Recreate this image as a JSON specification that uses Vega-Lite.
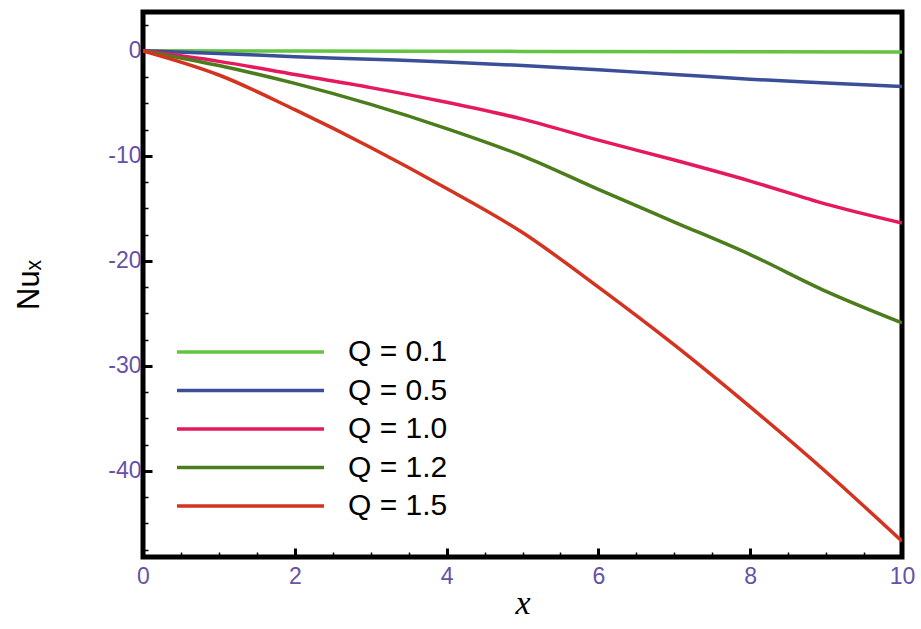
{
  "$schema": "https://vega.github.io/schema/vega-lite/v6.json",
  "width": 759,
  "height": 545,
  "autosize": {"type": "none"},
  "padding": {"left": 143, "top": 12, "right": 19, "bottom": 72},
  "background": "white",
  "config": {
    "view": {"stroke": "black", "strokeWidth": 5},
    "axis": {
      "domain": false,
      "grid": false,
      "labelFlush": false,
      "labelOverlap": false,
      "labelBound": false,
      "tickColor": "black"
    }
  },
  "data": {
    "values": [
      {"series": "Q = 0.1", "x": 0, "Nu": 0},
      {"series": "Q = 0.1", "x": 2, "Nu": -0.02},
      {"series": "Q = 0.1", "x": 5, "Nu": -0.05},
      {"series": "Q = 0.1", "x": 10, "Nu": -0.1},

      {"series": "Q = 0.5", "x": 0, "Nu": 0},
      {"series": "Q = 0.5", "x": 1, "Nu": -0.25},
      {"series": "Q = 0.5", "x": 2, "Nu": -0.55},
      {"series": "Q = 0.5", "x": 3, "Nu": -0.8},
      {"series": "Q = 0.5", "x": 4, "Nu": -1.05},
      {"series": "Q = 0.5", "x": 5, "Nu": -1.4},
      {"series": "Q = 0.5", "x": 6, "Nu": -1.8},
      {"series": "Q = 0.5", "x": 7, "Nu": -2.25},
      {"series": "Q = 0.5", "x": 8, "Nu": -2.7},
      {"series": "Q = 0.5", "x": 9, "Nu": -3.05},
      {"series": "Q = 0.5", "x": 10, "Nu": -3.4},

      {"series": "Q = 1.0", "x": 0, "Nu": 0},
      {"series": "Q = 1.0", "x": 1, "Nu": -1.0},
      {"series": "Q = 1.0", "x": 2, "Nu": -2.25},
      {"series": "Q = 1.0", "x": 3, "Nu": -3.5},
      {"series": "Q = 1.0", "x": 4, "Nu": -4.9},
      {"series": "Q = 1.0", "x": 5, "Nu": -6.5},
      {"series": "Q = 1.0", "x": 6, "Nu": -8.5},
      {"series": "Q = 1.0", "x": 7, "Nu": -10.4},
      {"series": "Q = 1.0", "x": 8, "Nu": -12.4},
      {"series": "Q = 1.0", "x": 9, "Nu": -14.6},
      {"series": "Q = 1.0", "x": 10, "Nu": -16.4},

      {"series": "Q = 1.2", "x": 0, "Nu": 0},
      {"series": "Q = 1.2", "x": 1, "Nu": -1.4},
      {"series": "Q = 1.2", "x": 2, "Nu": -3.1},
      {"series": "Q = 1.2", "x": 3, "Nu": -5.1},
      {"series": "Q = 1.2", "x": 4, "Nu": -7.4},
      {"series": "Q = 1.2", "x": 5, "Nu": -10.0},
      {"series": "Q = 1.2", "x": 6, "Nu": -13.2},
      {"series": "Q = 1.2", "x": 7, "Nu": -16.3},
      {"series": "Q = 1.2", "x": 8, "Nu": -19.4},
      {"series": "Q = 1.2", "x": 9, "Nu": -22.9},
      {"series": "Q = 1.2", "x": 10, "Nu": -25.9},

      {"series": "Q = 1.5", "x": 0, "Nu": 0},
      {"series": "Q = 1.5", "x": 1, "Nu": -2.3},
      {"series": "Q = 1.5", "x": 2, "Nu": -5.6},
      {"series": "Q = 1.5", "x": 3, "Nu": -9.2},
      {"series": "Q = 1.5", "x": 4, "Nu": -13.1},
      {"series": "Q = 1.5", "x": 5, "Nu": -17.3},
      {"series": "Q = 1.5", "x": 6, "Nu": -22.5},
      {"series": "Q = 1.5", "x": 7, "Nu": -28.0},
      {"series": "Q = 1.5", "x": 8, "Nu": -33.9},
      {"series": "Q = 1.5", "x": 9, "Nu": -40.1},
      {"series": "Q = 1.5", "x": 10, "Nu": -46.7}
    ]
  },
  "mark": {"type": "line", "strokeWidth": 3.5, "clip": true, "interpolate": "monotone"},
  "encoding": {
    "x": {
      "field": "x",
      "type": "quantitative",
      "scale": {"domain": [0, 10], "nice": false},
      "axis": {
        "title": "x",
        "titleFont": "Liberation Serif",
        "titleFontStyle": "italic",
        "titleFontWeight": "normal",
        "titleFontSize": 34,
        "titleColor": "black",
        "titlePadding": -6,
        "values": [0, 0.5, 1, 1.5, 2, 2.5, 3, 3.5, 4, 4.5, 5, 5.5, 6, 6.5, 7, 7.5, 8, 8.5, 9, 9.5, 10],
        "labelExpr": "datum.value % 2 === 0 ? toString(datum.value) : ''",
        "labelFont": "Liberation Sans",
        "labelFontSize": 23,
        "labelColor": "#6650a8",
        "labelPadding": 17,
        "tickSize": {"condition": {"test": "datum.value % 2 === 0", "value": -9}, "value": -5},
        "tickWidth": {"condition": {"test": "datum.value % 2 === 0", "value": 3}, "value": 1.5}
      }
    },
    "y": {
      "field": "Nu",
      "type": "quantitative",
      "scale": {"domain": [-48.2, 3.7], "nice": false, "zero": false},
      "axis": {
        "title": "Nuₓ",
        "titleFont": "Liberation Sans",
        "titleFontWeight": "normal",
        "titleFontSize": 31,
        "titleColor": "black",
        "titlePadding": 62,
        "values": [2.5, 0, -2.5, -5, -7.5, -10, -12.5, -15, -17.5, -20, -22.5, -25, -27.5, -30, -32.5, -35, -37.5, -40, -42.5, -45, -47.5],
        "labelExpr": "datum.value % 10 === 0 ? toString(datum.value) : ''",
        "labelFont": "Liberation Sans",
        "labelFontSize": 23,
        "labelColor": "#6650a8",
        "labelPadding": 11,
        "tickSize": {"condition": {"test": "datum.value % 10 === 0", "value": -9}, "value": -5},
        "tickWidth": {"condition": {"test": "datum.value % 10 === 0", "value": 3}, "value": 1.5}
      }
    },
    "color": {
      "field": "series",
      "type": "nominal",
      "scale": {
        "domain": ["Q = 0.1", "Q = 0.5", "Q = 1.0", "Q = 1.2", "Q = 1.5"],
        "range": ["#62c440", "#3b4f99", "#e6195e", "#4b7d1c", "#d4331f"]
      },
      "legend": {
        "title": null,
        "orient": "none",
        "legendX": 32,
        "legendY": 325,
        "padding": 0,
        "symbolType": "stroke",
        "symbolSize": 21609,
        "symbolStrokeWidth": 3.5,
        "clipHeight": 30,
        "rowPadding": 8.5,
        "labelOffset": 22,
        "labelFont": "Liberation Sans",
        "labelFontSize": 30,
        "labelColor": "black",
        "labelLimit": 300
      }
    }
  }
}
